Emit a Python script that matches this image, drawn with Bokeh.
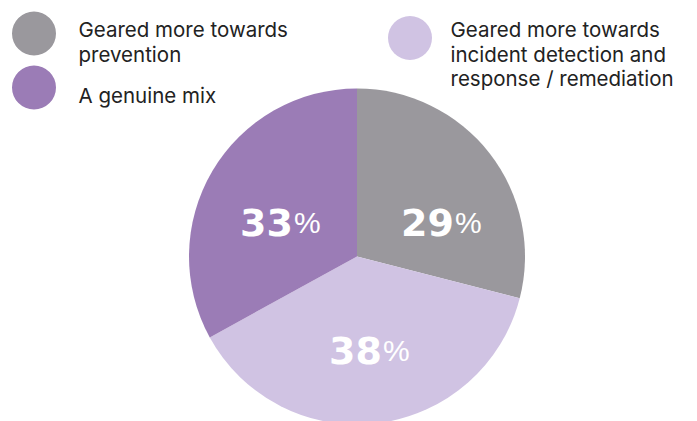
import math
from bokeh.plotting import figure
from bokeh.models import Range1d, ColumnDataSource
from bokeh.core.properties import value
from bokeh.embed import file_html
from bokeh.resources import INLINE

# ---- data ----
categories = ["Geared more towards prevention",
              "Geared more towards incident detection and response / remediation",
              "A genuine mix"]
values = [29, 38, 33]
colors = ["#9a989d", "#d0c3e3", "#9b7cb6"]
legend_lines = [["Geared more towards", "prevention"],
                ["Geared more towards", "incident detection and", "response / remediation"],
                ["A genuine mix"]]

# ---- layout (pixel space, y measured from top) ----
W, H = 697, 421
CX, CY, R = 356.5, 256, 168
legend_pos = [(33.5, 33), (409.5, 37.5), (33.5, 87)]   # circle centers
legend_text_x = [78, 450, 78]
legend_first_baseline = [29, 29, 95]
LINE_H = 24.5
# label split points (number ends / % starts), offsets from pie centre
label_offsets = [(97, -34), (25, 94), (-64, -34)]

def fy(y):
    return H - y

p = figure(width=W, height=H, x_range=Range1d(0, W), y_range=Range1d(0, H),
           output_backend="svg", toolbar_location=None, min_border=0)
p.axis.visible = False
p.grid.visible = False
p.outline_line_color = None
p.background_fill_color = "white"
p.border_fill_color = "white"

total = sum(values)
starts, ends = [], []
cum = 0
for v in values:
    starts.append(math.pi / 2 - 2 * math.pi * cum / total)
    cum += v
    ends.append(math.pi / 2 - 2 * math.pi * cum / total)

src = ColumnDataSource(dict(x=[CX] * 3, y=[fy(CY)] * 3, r=[R] * 3,
                            s=starts, e=ends, c=colors))
p.wedge(x="x", y="y", radius="r", start_angle="s", end_angle="e",
        direction="clock", fill_color="c", line_color=None, source=src)

# percentage labels
for v, (dx, dy) in zip(values, label_offsets):
    x = CX + dx
    y = fy(CY + dy)
    p.text(x=[x], y=[y], text=[str(v)], text_font=value("DejaVu Sans"),
           text_font_style="bold", text_font_size="38px", text_color="white",
           text_align="right", text_baseline="alphabetic")
    p.text(x=[x + 1], y=[y], text=["%"], text_font=value("Liberation Sans"),
           text_font_size="30px", text_color="white",
           text_align="left", text_baseline="alphabetic")

# legend
for (lx, ly), c, tx, b0, lines in zip(legend_pos, colors, legend_text_x,
                                       legend_first_baseline, legend_lines):
    p.circle(x=[lx], y=[fy(ly)], radius=22, fill_color=c, line_color=None)
    for i, line in enumerate(lines):
        p.text(x=[tx], y=[fy(b0 + i * LINE_H)], text=[line],
               text_font=value("Inter"), text_font_size="20.5px",
               text_color="#222222", text_align="left",
               text_baseline="alphabetic")

open("out.html", "w").write(file_html(p, INLINE))
